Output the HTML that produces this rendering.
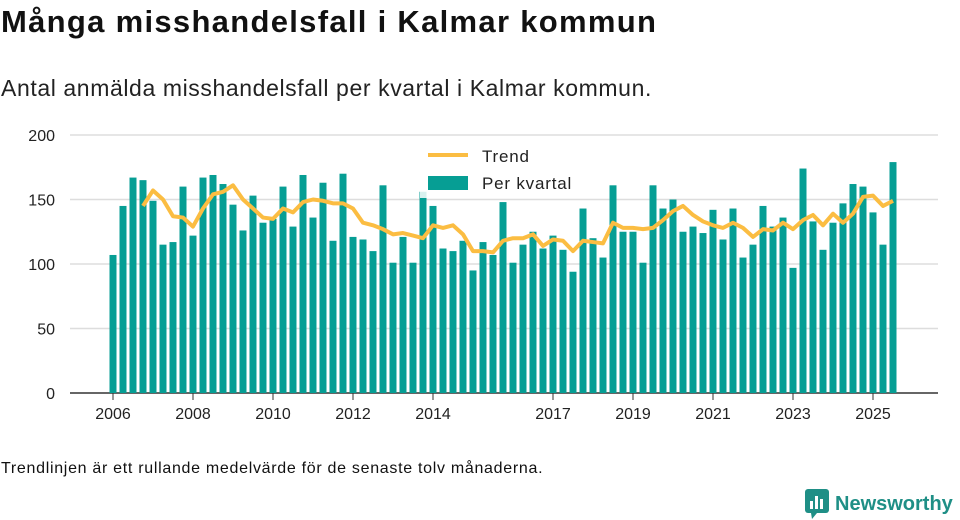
<!DOCTYPE html>
<html><head><meta charset="utf-8"><style>
body{margin:0;background:#fff;font-family:"Liberation Sans",sans-serif;color:#111;}
#wrap{position:relative;width:960px;height:520px;overflow:hidden}
h1{position:absolute;left:1px;top:4px;margin:0;font-size:31px;font-weight:bold;letter-spacing:1.3px}
.sub{position:absolute;left:1px;top:75px;font-size:23px;color:#222;letter-spacing:0.6px}
.foot{position:absolute;left:1px;top:460px;font-size:16px;letter-spacing:0.7px}
.logo{position:absolute;left:805px;top:489px;display:flex;align-items:center;color:#1f8f86;font-size:20px;font-weight:bold}
</style></head><body><div id="wrap">
<h1>Många misshandelsfall i Kalmar kommun</h1>
<div class="sub">Antal anmälda misshandelsfall per kvartal i Kalmar kommun.</div>
<svg id="chart" width="960" height="520" style="position:absolute;left:0;top:0"></svg>
<div class="foot">Trendlinjen är ett rullande medelvärde för de senaste tolv månaderna.</div>
<div class="logo"><svg width="24" height="30" viewBox="0 0 24 30"><rect x="0" y="0" width="24" height="24" rx="3" fill="#1f8f86"/><polygon points="6,24 12,24 7,30" fill="#1f8f86"/><rect x="5" y="12" width="3" height="8" fill="#fff"/><rect x="10" y="7" width="3" height="13" fill="#fff"/><rect x="15" y="10" width="3" height="10" fill="#fff"/></svg><span style="margin-left:6px">Newsworthy</span></div>
</div>
<script>
const bars=[107,145,167,165,149,115,117,160,122,167,169,162,146,126,153,132,135,160,129,169,136,163,118,170,121,119,110,161,101,121,101,156,145,112,110,118,95,117,107,148,101,115,125,112,122,111,94,143,120,105,161,125,125,101,161,143,150,125,129,124,142,119,143,105,115,145,129,136,97,174,133,111,132,147,162,160,140,115,179];
const trend=[null,null,null,145,157,150,137,136,129,143,154,156,161,150,143,136,135,143,140,148,150,149,147,147,143,132,130,127,123,124,122,120,130,128,130,123,110,110,109,118,120,120,123,114,119,118,110,118,117,116,132,128,128,127,128,134,141,145,138,133,130,128,132,128,121,127,126,132,127,134,138,130,139,132,139,152,153,145,149];
const yTicks=[0,50,100,150,200];
const yearLabels=["2006","2008","2010","2012","2014","2017","2019","2021","2023","2025"];
const NS="http://www.w3.org/2000/svg";
const svg=document.getElementById('chart');
const x=i=>113+i*10; const y=v=>393-v*1.29;
function mk(t,a){const e=document.createElementNS(NS,t);for(const k in a)e.setAttribute(k,a[k]);svg.appendChild(e);return e;}
yTicks.forEach(v=>{
 const g=mk('line',{x1:70,x2:938,y1:y(v),y2:y(v),stroke:v?'#ddd':'#333','stroke-width':1.5});
 
 
 const t=mk('text',{x:55,y:y(v)+6,'text-anchor':'end','font-size':16,fill:'#222','font-family':'Liberation Sans, sans-serif'});t.textContent=v;
 
 
});
bars.forEach((v,i)=>{
 const r=mk('rect',{x:x(i)-3.5,y:y(v),width:7,height:v*1.29,fill:'#069e94'});
 
 
});
yearLabels.forEach(l=>{
 const i=(parseInt(l)-2006)*4; const xx=x(i);
 mk('line',{x1:xx,x2:xx,y1:393,y2:400,stroke:'#333'});
 const t=mk('text',{x:xx,y:419,'text-anchor':'middle','font-size':16,fill:'#222','font-family':'Liberation Sans, sans-serif'});t.textContent=l;
 
 
});
let d='';trend.forEach((v,i)=>{if(v==null)return;d+=(d?'L':'M')+x(i)+','+y(v);});
const p=mk('path',{d:d,fill:'none',stroke:'#fbbd42','stroke-width':4,'stroke-linejoin':'round'});


const lb=mk('rect',{x:420,y:140,width:165,height:58,fill:'#fff',opacity:0.85});


mk('line',{x1:428,x2:468,y1:155,y2:155,stroke:'#fbbd42','stroke-width':4});
let t=mk('text',{x:482,y:162,'font-size':17,fill:'#222','font-family':'Liberation Sans, sans-serif','letter-spacing':0.8});t.textContent='Trend';


mk('rect',{x:428,y:176,width:40,height:14,fill:'#069e94'});
t=mk('text',{x:482,y:189,'font-size':17,fill:'#222','font-family':'Liberation Sans, sans-serif','letter-spacing':0.8});t.textContent='Per kvartal';


</script></body></html>
